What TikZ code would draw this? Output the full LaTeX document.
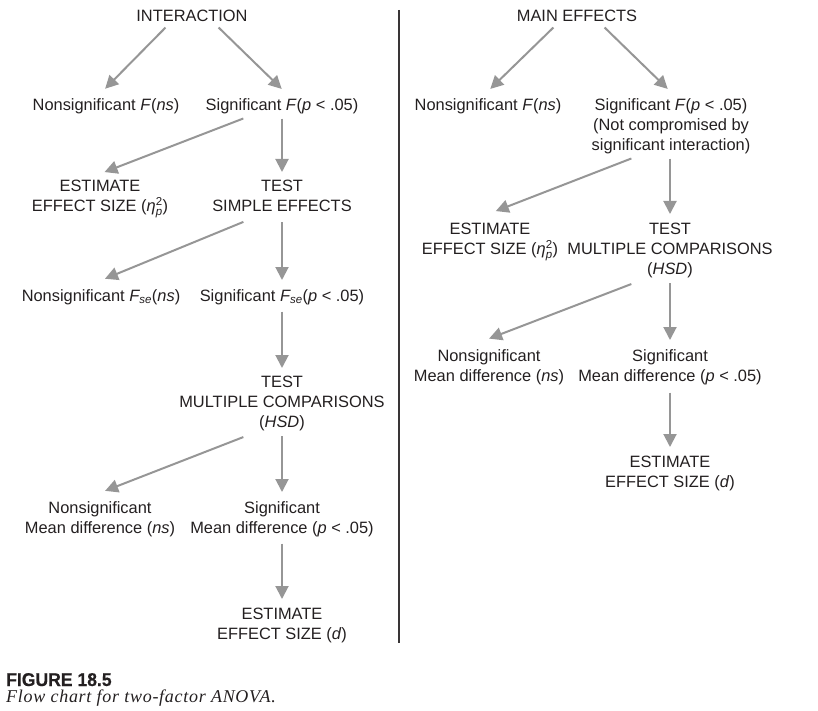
\documentclass[tikz,border=0pt]{standalone}
\usepackage{amsmath}
\usepackage{fontspec}
\setmainfont{Liberation Sans}
\newfontfamily\capserif{Liberation Serif}[LetterSpace=4]
\newfontfamily\capsans{Liberation Sans}[BoldFeatures={FakeStretch=0.95,FakeBold=0.6}]
\usetikzlibrary{arrows.meta}
\definecolor{ink}{RGB}{35,31,32}
\definecolor{arrgray}{RGB}{150,150,150}
\newcommand{\etap}{$\text{\itshape η}^{\text{2}}_{\text{\itshape p}}$}
\newcommand{\Fse}{$\text{\itshape F}_{\text{\itshape se}}$}
\tikzset{
  lbl/.style={anchor=north,align=center,inner sep=0pt,text=ink},
  arr/.style={color=arrgray,line width=2pt,shorten <=5pt,shorten >=9pt,
    -{Triangle[length=13pt,width=13pt]}}
}
\begin{document}
\begin{tikzpicture}[x=1pt,y=-1pt,font=\fontsize{16.4}{20}\selectfont]
  \useasboundingbox (0,0) rectangle (818,711);
  \node[lbl] (inter)  at (192,10)  {INTERACTION};
  \node[lbl] (nsF)    at (106,98)  {Nonsignificant \textit{F}(\textit{ns})};
  \node[lbl] (sigF)   at (282,98)  {Significant \textit{F}(\textit{p} < .05)};
  \node[lbl] (estL)   at (100,180) {ESTIMATE\\EFFECT SIZE (\etap)};
  \node[lbl] (simp)   at (282,180) {TEST\\SIMPLE EFFECTS};
  \node[lbl] (nsFse)  at (101,289) {Nonsignificant \Fse(\textit{ns})};
  \node[lbl] (sigFse) at (282,289) {Significant \Fse(\textit{p} < .05)};
  \node[lbl] (mcL)    at (282,376) {TEST\\MULTIPLE COMPARISONS\\(\textit{HSD})};
  \node[lbl] (nsMDL)  at (100,501) {Nonsignificant\\Mean difference (\textit{ns})};
  \node[lbl] (sigMDL) at (282,501) {Significant\\Mean difference (\textit{p} < .05)};
  \node[lbl] (effL)   at (282,608) {ESTIMATE\\EFFECT SIZE (\textit{d})};

  \node[lbl] (main)   at (577,10)  {MAIN EFFECTS};
  \node[lbl] (nsFR)   at (488,98)  {Nonsignificant \textit{F}(\textit{ns})};
  \node[lbl] (sigFR)  at (671,98)  {Significant \textit{F}(\textit{p} < .05)\\(Not compromised by\\significant interaction)};
  \node[lbl] (estR)   at (490,223) {ESTIMATE\\EFFECT SIZE (\etap)};
  \node[lbl] (mcR)    at (670,223) {TEST\\MULTIPLE COMPARISONS\\(\textit{HSD})};
  \node[lbl] (nsMDR)  at (489,349) {Nonsignificant\\Mean difference (\textit{ns})};
  \node[lbl] (sigMDR) at (670,349) {Significant\\Mean difference (\textit{p} < .05)};
  \node[lbl] (effR)   at (670,456) {ESTIMATE\\EFFECT SIZE (\textit{d})};

  \coordinate (divtop) at (399,10);
  \coordinate (divbot) at (399,643);
  \draw[ink!90,line width=2.2pt] (divtop) -- (divbot);

  \node[anchor=base west,inner sep=0pt,text=ink,font=\fontsize{18.5}{20}\selectfont\capsans\bfseries] (fig) at (6,686) {FIGURE 18.5};
  \node[anchor=base west,inner sep=0pt,text=ink,font=\fontsize{18}{20}\selectfont\capserif\itshape] (cap) at (6,702) {Flow chart for two-factor ANOVA.};

  \draw[arr,shorten >=13pt] ([xshift=-23pt,yshift=-2pt]inter.south) -- ([xshift=-10pt]nsF.north);
  \draw[arr,shorten >=13pt] ([xshift=23pt,yshift=-2pt]inter.south)  -- ([xshift=9pt]sigF.north);
  \draw[arr,shorten >=22pt] ([xshift=-34pt,yshift=-3pt]sigF.south)  -- ([xshift=-16pt]estL.north);
  \draw[arr,shorten >=8pt]  (sigF.south)                            -- (simp.north);
  \draw[arr,shorten >=27pt] ([xshift=-34pt,yshift=-8pt]simp.south)  -- ([xshift=-21pt]nsFse.north);
  \draw[arr]                ([yshift=-5pt]simp.south)               -- (sigFse.north);
  \draw[arr,shorten >=8pt]  ([yshift=-2pt]sigFse.south)             -- (mcL.north);
  \draw[arr,shorten >=28pt] ([xshift=-34pt,yshift=-4pt]mcL.south)   -- ([xshift=-21pt]nsMDL.north);
  \draw[arr]                (mcL.south)                             -- (sigMDL.north);
  \draw[arr]                ([yshift=-2pt]sigMDL.south)             -- (effL.north);

  \draw[arr,shorten >=13pt] ([xshift=-20pt,yshift=-2pt]main.south)  -- ([xshift=-7pt]nsFR.north);
  \draw[arr,shorten >=13pt] ([xshift=24pt,yshift=-2pt]main.south)   -- ([xshift=6pt]sigFR.north);
  \draw[arr,shorten >=33pt] ([xshift=-35pt,yshift=-3pt]sigFR.south) -- ([xshift=-25pt]estR.north);
  \draw[arr]                ([xshift=-1pt]sigFR.south)              -- (mcR.north);
  \draw[arr,shorten >=29pt] ([xshift=-34pt,yshift=-4pt]mcR.south)   -- ([xshift=-27pt]nsMDR.north);
  \draw[arr]                (mcR.south)                             -- (sigMDR.north);
  \draw[arr]                ([yshift=-3pt]sigMDR.south)             -- (effR.north);
\end{tikzpicture}
\end{document}
